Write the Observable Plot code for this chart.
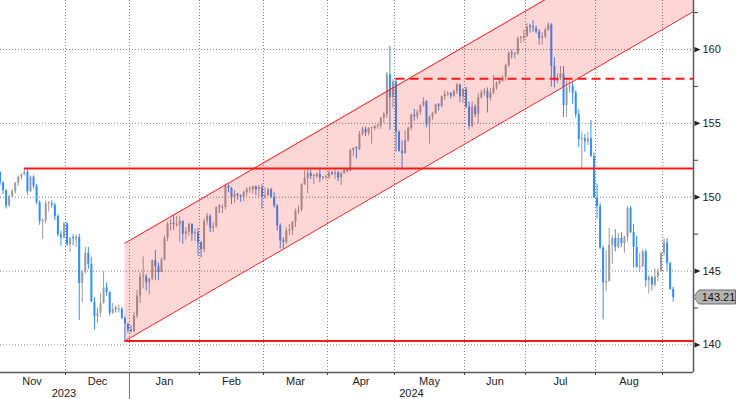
<!DOCTYPE html>
<html>
<head>
<meta charset="utf-8">
<script src="https://cdn.jsdelivr.net/npm/d3@7"></script>
<script src="https://cdn.jsdelivr.net/npm/@observablehq/plot@0.6"></script>
<style>
  html, body { margin: 0; padding: 0; background: #fff; }
  #chart { width: 736px; height: 399px; overflow: hidden; }
</style>
</head>
<body>
<div id="chart"></div>
<script>
// ---- Data: USD/JPY daily bars, one per weekday starting 2023-11-01 ----
const firstDay = "2023-11-01";
const open = [
  151.67,150.96,150.45,149.40,150.05,150.38,150.95,151.35,151.51,151.69,150.38,151.36,150.72,149.62,148.35,148.40,149.55,149.55,149.45,148.70,147.45,147.25,
  148.20,146.80,147.20,147.15,147.30,144.15,144.95,146.20,145.45,142.90,141.90,142.15,142.80,143.85,143.55,142.15,142.40,142.35,142.40,141.80,141.40,
  141.00,140.90,141.95,143.30,144.60,144.60,144.20,144.45,145.70,145.30,144.90,145.75,147.20,148.15,148.15,148.10,148.10,148.35,147.50,147.65,148.15,147.50,147.60,
  146.90,146.45,148.35,148.70,147.90,148.00,149.30,149.25,149.30,150.75,150.60,149.95,150.20,150.10,150.00,150.30,150.50,150.50,150.70,150.50,150.65,
  150.00,150.10,150.50,150.00,149.40,148.05,147.05,146.95,147.70,147.75,148.30,149.05,149.15,150.85,151.25,151.60,151.40,151.40,151.55,151.30,151.35,
  151.35,151.65,151.55,151.65,151.30,151.60,151.85,151.75,153.15,153.30,153.25,154.25,154.60,154.35,154.65,154.65,154.80,154.80,155.35,155.60,158.30,156.75,
  157.80,154.40,153.10,152.95,153.85,154.65,155.55,155.45,155.75,156.20,156.45,154.90,155.40,155.65,156.25,156.15,156.80,156.95,157.00,156.85,157.15,157.60,156.80,
  157.30,156.10,154.80,156.10,155.60,156.75,157.05,157.15,156.70,157.05,157.40,157.70,157.85,158.10,158.90,159.75,159.65,159.70,160.75,160.75,
  160.90,161.50,161.45,161.40,161.20,160.75,160.85,161.30,161.65,158.85,157.85,158.05,158.35,156.20,157.40,157.50,157.05,155.60,153.90,153.95,153.75,153.95,152.75,
  149.95,149.35,146.55,144.20,144.30,146.75,147.20,146.60,147.20,146.85,147.30,149.25,147.60,146.60,145.25,145.30,146.30,144.35,144.55,144.05,144.60,144.95,
  146.20,146.90,145.50,143.75
];
const high = [
  151.72,151.05,150.50,150.15,150.55,151.00,151.43,151.60,151.92,151.90,151.43,151.45,150.85,149.75,148.55,149.75,149.70,149.75,149.60,148.80,147.70,148.30,
  148.30,147.30,147.45,147.45,147.50,145.00,146.60,146.60,145.90,143.20,142.50,143.45,144.95,144.20,143.60,142.80,142.60,142.70,142.55,141.90,141.45,
  141.30,142.20,143.70,144.85,145.95,144.75,144.50,145.75,146.40,145.55,145.90,147.35,148.30,148.50,148.80,148.70,148.70,148.40,147.95,148.25,148.20,147.85,147.90,
  147.00,148.55,148.90,148.80,148.25,149.35,149.50,149.50,150.90,150.85,150.65,150.45,150.25,150.15,150.40,150.65,150.70,150.75,150.75,150.80,150.85,
  150.65,150.60,150.60,150.30,149.50,148.20,147.25,147.90,148.15,148.35,149.20,149.40,150.90,151.80,151.85,151.85,151.55,151.65,151.97,151.40,151.45,
  151.80,151.75,151.95,151.75,151.70,151.95,151.95,153.25,153.35,153.40,154.45,154.75,154.75,154.70,154.70,154.85,154.90,155.40,155.75,158.45,160.22,157.95,
  157.99,154.50,153.80,154.50,154.75,155.65,155.95,155.90,156.25,156.75,156.55,155.50,155.75,156.30,156.35,156.85,157.20,157.15,157.10,157.25,157.70,157.65,157.35,
  157.45,156.45,156.45,156.25,157.00,157.25,157.35,157.40,157.35,158.25,157.80,158.00,158.25,159.00,159.85,159.95,159.80,160.85,160.90,161.30,
  161.75,161.70,161.95,161.60,161.35,161.15,161.45,161.80,161.75,159.45,158.35,158.85,158.85,157.85,157.85,157.85,157.20,155.90,154.40,154.25,154.40,155.20,153.00,
  150.85,149.60,146.70,146.35,147.90,147.40,147.80,147.55,147.60,147.35,149.40,149.35,148.15,147.35,146.20,146.45,146.45,144.70,144.65,145.15,145.15,146.25,
  147.20,147.20,145.60,143.90
];
const low = [
  150.80,150.18,149.20,149.35,149.95,150.20,150.75,151.15,151.45,150.15,150.30,150.55,149.50,148.10,147.15,148.20,149.00,149.25,148.40,147.30,146.67,147.15,
  146.65,146.25,146.70,146.60,141.65,142.85,144.80,145.10,142.90,141.00,141.45,141.85,142.75,143.30,141.95,142.05,142.15,142.15,141.70,140.25,140.80,
  140.80,140.80,141.80,142.80,143.80,143.65,143.40,144.35,144.35,144.35,144.90,145.70,147.00,147.70,147.75,147.95,146.95,146.80,147.10,147.35,147.00,147.00,146.00,
  145.90,146.25,148.10,147.60,147.60,147.90,148.90,148.90,149.15,150.30,149.50,149.60,149.80,149.65,149.70,150.05,150.25,150.20,150.10,150.00,149.20,
  149.85,150.05,149.90,149.25,147.70,146.50,146.50,146.80,147.40,147.40,147.95,148.85,149.00,150.80,150.25,151.20,150.85,151.25,151.00,151.15,151.20,
  151.20,151.45,151.20,151.05,150.80,151.55,151.65,151.70,152.75,152.60,153.15,154.15,154.10,154.15,153.60,154.50,154.60,154.60,155.00,155.35,154.55,156.05,
  153.05,153.05,151.86,152.90,153.70,154.50,155.15,155.25,155.55,156.10,154.70,153.60,155.20,155.60,155.85,156.05,156.55,156.80,156.65,156.75,156.95,156.40,156.35,
  156.00,154.55,154.70,155.40,154.95,156.65,156.85,155.70,156.50,156.95,157.25,157.60,157.80,157.85,158.80,159.35,159.35,159.60,160.40,160.50,
  160.80,161.10,161.15,161.05,160.30,160.30,160.75,161.25,157.45,157.40,157.70,157.90,155.40,155.40,157.05,156.30,155.35,153.35,151.95,153.05,153.50,152.70,149.90,
  148.50,146.45,141.70,143.60,144.25,145.45,146.30,146.50,146.60,146.20,146.95,147.55,145.20,145.20,144.95,145.25,143.90,143.45,143.65,143.90,144.30,144.95,
  146.00,145.00,143.70,142.90
];
const close = [
  150.96,150.45,149.40,150.05,150.38,150.95,151.35,151.51,151.69,150.38,151.36,150.72,149.62,148.35,148.40,149.55,149.55,149.45,148.70,147.45,147.25,148.20,
  146.80,147.20,147.15,147.30,144.15,144.95,146.20,145.45,142.90,141.90,142.15,142.80,143.85,143.55,142.15,142.40,142.35,142.40,141.80,141.40,141.00,
  140.90,141.95,143.30,144.60,144.60,144.20,144.45,145.70,145.30,144.90,145.75,147.20,148.15,148.15,148.10,148.10,148.35,147.50,147.65,148.15,147.50,147.60,146.90,
  146.45,148.35,148.70,147.90,148.00,149.30,149.25,149.30,150.75,150.60,149.95,150.20,150.10,150.00,150.30,150.50,150.50,150.70,150.50,150.65,150.00,
  150.10,150.50,150.00,149.40,148.05,147.05,146.95,147.70,147.75,148.30,149.05,149.15,150.85,151.25,151.60,151.40,151.40,151.55,151.30,151.35,151.35,
  151.65,151.55,151.65,151.30,151.60,151.85,151.75,153.15,153.30,153.25,154.25,154.60,154.35,154.65,154.65,154.80,154.80,155.35,155.60,158.30,156.75,157.80,
  154.40,153.10,152.95,153.85,154.65,155.55,155.45,155.75,156.20,156.45,154.90,155.40,155.65,156.25,156.15,156.80,156.95,157.00,156.85,157.15,157.60,156.80,157.30,
  156.10,154.80,156.10,155.60,156.75,157.05,157.15,156.70,157.05,157.40,157.70,157.85,158.10,158.90,159.75,159.65,159.70,160.75,160.75,160.90,
  161.50,161.45,161.40,161.20,160.75,160.85,161.30,161.65,158.85,157.85,158.05,158.35,156.20,157.40,157.50,157.05,155.60,153.90,153.95,153.75,153.95,152.75,149.95,
  149.35,146.55,144.20,144.30,146.75,147.20,146.60,147.20,146.85,147.30,149.25,147.60,146.60,145.25,145.30,146.30,144.35,144.55,144.05,144.60,144.95,146.20,
  146.90,145.50,143.75,143.21
];
const lastPrice = 143.21;

// Tick values & labels
const yMajorTicks = [140, 145, 150, 155, 160];
const yMinorTicks = [142.5, 147.5, 152.5, 157.5, 162.5];
const monthLabels = ["Nov", "Dec", "Jan", "Feb", "Mar", "Apr", "May", "Jun", "Jul", "Aug"];
const yearLabels = ["2023", "2024"];

// Annotation levels (drawn by the analyst)
const levelValues = [151.94, 140.27, 158.02];
const levelStarts = ["2023-11-13", "2023-12-28", "2024-05-01"];
const levelDashed = [false, false, true];
const channelStart = "2023-12-28";
const channelStartLow = 140.27;
const channelSlope = 0.1195;   // per trading day
const channelWidth = 6.62;

// ---- View ----
const xDomain = [0.66, 228.17];   // trading-day index
const yDomain = [138.13, 163.32];
const colUp = "#9c9c9c";
const colDown = "#2f8fff";
const red = "#ff1a1a";

// trading-day index (weekdays)
const days = d3.utcDay.range(new Date(firstDay + "T00:00Z"), new Date("2024-10-01T00:00Z"))
  .filter(d => d.getUTCDay() !== 0 && d.getUTCDay() !== 6);
const idx = s => days.findIndex(d => +d === +new Date(s + "T00:00Z"));
const monthStarts = [];
days.forEach((d, i) => { if (i === 0 || d.getUTCMonth() !== days[i - 1].getUTCMonth()) monthStarts.push(i); });

const bars = close.map((c, i) => ({
  t: i + 0.5, open: open[i], high: high[i], low: low[i], close: c, up: c >= open[i],
  bodyEnd: Math.abs(c - open[i]) < 0.07 ? open[i] + 0.07 : c
}));

const gridMonths = monthStarts.filter(s => s > xDomain[0] && s < xDomain[1]);
const monthLabelData = monthLabels.map((label, k) => ({label, t: (monthStarts[k] + monthStarts[k + 1]) / 2}));
const yearStart = monthStarts[2];
const yearLabelData = [
  {label: yearLabels[0], t: (monthStarts[0] + yearStart) / 2},
  {label: yearLabels[1], t: (yearStart + xDomain[1]) / 2}
];

const levels = levelValues.map((v, k) => ({value: v, t: idx(levelStarts[k]) + 0.5, dashed: levelDashed[k]}));
const c0 = idx(channelStart) + 0.5;
const cEnd = xDomain[1] + 10;
const channelPts = [c0, cEnd].map(t => {
  const lo = channelStartLow + channelSlope * (t - c0);
  return {t, lo, hi: lo + channelWidth};
});

const arrowRight = {
  draw(ctx) { ctx.moveTo(1, -2.6); ctx.lineTo(7, 0); ctx.lineTo(1, 2.6); ctx.closePath(); }
};

const chart = Plot.plot({
  width: 736,
  height: 399,
  marginTop: 0,
  marginRight: 43,
  marginBottom: 27,
  marginLeft: 0,
  style: {fontFamily: "'Liberation Sans', Arial, sans-serif", fontSize: "11px", background: "#fff", overflow: "visible"},
  x: {type: "linear", domain: xDomain, axis: null},
  y: {type: "linear", domain: yDomain, axis: null},
  marks: [
    // grid
    Plot.ruleY(yMajorTicks, {stroke: "#808080", strokeDasharray: "1,2"}),
    Plot.ruleX(gridMonths, {stroke: "#808080", strokeDasharray: "1,2"}),
    // OHLC bars
    Plot.ruleX(bars.filter(d => d.up), {x: "t", y1: "low", y2: "high", stroke: colUp, strokeWidth: 1, clip: true}),
    Plot.ruleX(bars.filter(d => d.up), {x: "t", y1: "open", y2: "bodyEnd", stroke: colUp, strokeWidth: 2, clip: true}),
    Plot.ruleX(bars.filter(d => !d.up), {x: "t", y1: "low", y2: "high", stroke: colDown, strokeWidth: 1, clip: true}),
    Plot.ruleX(bars.filter(d => !d.up), {x: "t", y1: "open", y2: "bodyEnd", stroke: colDown, strokeWidth: 2, clip: true}),
    // channel
    Plot.areaY(channelPts, {x: "t", y1: "lo", y2: "hi", fill: "#ff0000", fillOpacity: 0.16, clip: true}),
    Plot.line(channelPts, {x: "t", y: "lo", stroke: red, strokeWidth: 1, clip: true}),
    Plot.line(channelPts, {x: "t", y: "hi", stroke: red, strokeWidth: 1, clip: true}),
    // horizontal levels
    Plot.ruleY(levels.filter(d => !d.dashed), {y: "value", x1: "t", x2: () => xDomain[1], stroke: red, strokeWidth: 2}),
    Plot.ruleY(levels.filter(d => d.dashed), {y: "value", x1: "t", x2: () => xDomain[1], stroke: red, strokeWidth: 2, strokeDasharray: "9,5"}),
    // axes lines
    Plot.ruleY([yDomain[0]], {stroke: "#5a5a5a", strokeWidth: 1.5}),
    Plot.ruleX([xDomain[1]], {stroke: "#5a5a5a", strokeWidth: 1.5}),
    // right axis
    Plot.axisY(yMajorTicks, {anchor: "right", tickSize: 0, tickPadding: 9, label: null, fill: "#222", fontSize: 11, tickFormat: d => String(d)}),
    Plot.axisY(yMinorTicks, {anchor: "right", tickSize: 4, label: null, stroke: "#444", tickFormat: () => ""}),
    Plot.dot(yMajorTicks, {x: () => xDomain[1], y: d => d, symbol: arrowRight, r: 3, fill: "#222", stroke: "none"}),
    // bottom axis
    Plot.axisX(gridMonths, {anchor: "bottom", tickSize: 3, label: null, stroke: "#444", tickFormat: () => ""}),
    Plot.axisX([yearStart], {anchor: "bottom", tickSize: 27, label: null, stroke: "#777", tickFormat: () => ""}),
    Plot.text(monthLabelData, {x: "t", y: () => yDomain[0], text: "label", dy: 9, fill: "#222", fontSize: 11}),
    Plot.text(yearLabelData, {x: "t", y: () => yDomain[0], text: "label", dy: 20.5, fill: "#222", fontSize: 11})
  ]
});

// last-price tag
const yLast = chart.scale("y").apply(lastPrice);
const xAxis = chart.scale("x").apply(xDomain[1]);
const tag = d3.select(chart).append("g");
tag.append("path")
  .attr("d", `M${xAxis + 0.5},${yLast} L${xAxis + 6},${yLast - 7} L735.5,${yLast - 7} L735.5,${yLast + 7} L${xAxis + 6},${yLast + 7} Z`)
  .attr("fill", "#b3b3b3").attr("stroke", "#6e6e6e").attr("stroke-width", 1);
tag.append("text")
  .attr("x", 718.5).attr("y", yLast).attr("dy", "0.35em")
  .attr("text-anchor", "middle").attr("fill", "#111")
  .style("font-size", "11px")
  .text(lastPrice.toFixed(2));

document.getElementById("chart").appendChild(chart);
</script>
</body>
</html>
